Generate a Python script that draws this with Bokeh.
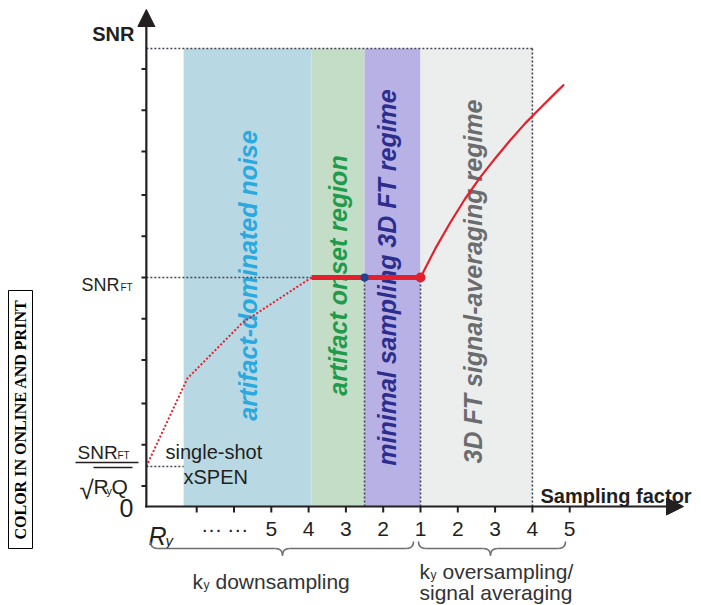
import math
from bokeh.plotting import figure
from bokeh.models import Range1d, Arrow, NormalHead
from bokeh.core.properties import value
from bokeh.embed import file_html
from bokeh.resources import INLINE

# ---------------- data ----------------
band_labels = ["artifact-dominated noise", "artifact onset region",
               "minimal sampling 3D FT regime", "3D FT signal-averaging regime"]
band_left = [-6.35, -2.92, -1.5, 0.0]
band_right = [-2.92, -1.5, 0.0, 3.0]
band_top = [2.0, 2.0, 2.0, 2.0]

# sampling positions: 0 = fully sampled (factor 1); negative = downsampling, positive = oversampling
tick_x = [-6, -5, -4, -3, -2, -1, 0, 1, 2, 3, 4]
tick_label_x = [-5.6, -4.9, -4, -3, -2, -1, 0, 1, 2, 3, 4]
tick_labels = ["\u00b7\u00b7\u00b7", "\u00b7\u00b7\u00b7", "5", "4", "3", "2", "1", "2", "3", "4", "5"]
y_ticks = [0.09, 0.27, 0.45, 0.64, 0.82, 1.0, 1.18, 1.36, 1.55, 1.73, 1.91]

axis_x = -7.35          # position of R_y (single shot) on the sampling axis
snr_single = 0.175      # SNR_FT / sqrt(R_y Q)
snr_ft = 1.0
snr_top = 2.0

down_x = [-7.35, -6.25, -4.77, -2.92]
down_y = [0.175, 0.559, 0.803, 1.0]
plateau_x = [-2.92, 0.0]
plateau_y = [1.0, 1.0]
up_x = [0.0, 0.4, 0.8, 1.2, 1.6, 2.0, 2.4, 2.8, 3.2, 3.6, 3.85]
up_y = [1.0, 1.127, 1.240, 1.345, 1.437, 1.520, 1.598, 1.672, 1.738, 1.803, 1.843]
min_pt_x, min_pt_y = [-1.5], [1.0]
ft_pt_x, ft_pt_y = [0.0], [1.0]

# ---------------- styles ----------------
band_colors = ["#b8d8e3", "#c4ddc7", "#b8b1e5", "#eceeee"]
band_text_colors = ["#2aa8e0", "#1f9b4b", "#2c2d8c", "#6b6c6e"]
DARK = "#231f20"
RED = "#e3202c"
DOT = "#454550"
SANS = value("Liberation Sans")

W, H = 700, 604
OFF = 0  # page offset of the canvas


def X(px):
    return (px - 420) / 37.3


def Y(py):
    return (506 - py) / 229.0


p = figure(width=W, height=H, x_range=Range1d(X(OFF), X(OFF + W)), y_range=Range1d(Y(OFF + H), Y(OFF)),
           x_axis_type=None, y_axis_type=None, toolbar_location=None,
           output_backend="svg", min_border=0)
p.outline_line_color = None
p.background_fill_color = "white"

# bands
p.quad(left=band_left, right=band_right, bottom=0, top=band_top,
       fill_color=band_colors, line_color=None)

# band texts (vertical)
centers = [(l + r) / 2 for l, r in zip(band_left, band_right)]
p.text(x=[centers[0], centers[1], centers[2] - 0.15, centers[3] - 0.1],
       y=[Y(275), Y(275), Y(277), Y(281)], text=band_labels, angle=math.pi / 2,
       text_color=band_text_colors, text_font=SANS, text_font_size="25px",
       text_font_style="bold italic", text_align="center", text_baseline="middle")

# dotted guide lines
p.segment(x0=[axis_x, axis_x, axis_x, band_right[3], min_pt_x[0], ft_pt_x[0]],
          y0=[snr_top, snr_ft, snr_single, 0, 0, 0],
          x1=[band_right[3], plateau_x[0], band_left[0], band_right[3], min_pt_x[0], ft_pt_x[0]],
          y1=[snr_top, snr_ft, snr_single, snr_top, min_pt_y[0], ft_pt_y[0]],
          line_color=DOT, line_width=1.6, line_dash="2 2")

# curves
p.line(down_x, down_y, line_color=RED, line_width=2, line_dash="2 2")
p.line(plateau_x, plateau_y, line_color=RED, line_width=5)
p.line(up_x, up_y, line_color=RED, line_width=2.2)
p.scatter(min_pt_x, min_pt_y, size=8, fill_color="#23408e", line_color=None)
p.scatter(ft_pt_x, ft_pt_y, size=10, fill_color=RED, line_color=None)

# axes
p.add_layout(Arrow(end=NormalHead(size=17, fill_color=DARK, line_color=DARK, line_width=1),
                   x_start=axis_x, y_start=Y(507), x_end=axis_x, y_end=Y(9),
                   line_color=DARK, line_width=2.2))
p.add_layout(Arrow(end=NormalHead(size=17, fill_color=DARK, line_color=DARK, line_width=1),
                   x_start=axis_x - 0.03, y_start=0, x_end=X(683), y_end=0,
                   line_color=DARK, line_width=2.2))
p.segment(x0=tick_x, y0=[0] * len(tick_x), x1=tick_x, y1=[Y(512)] * len(tick_x),
          line_color=DARK, line_width=2)
p.segment(x0=[X(141)] * len(y_ticks), y0=y_ticks, x1=[axis_x] * len(y_ticks), y1=y_ticks,
          line_color=DARK, line_width=2)

# x tick labels
p.text(x=tick_label_x, y=[Y(528)] * len(tick_label_x), text=tick_labels,
       text_font=SANS, text_font_size="21px", text_color=DARK,
       text_align="center", text_baseline="middle")
p.text(x=[X(148)], y=[Y(535)], text=["R"], text_font=SANS, text_font_size="25px",
       text_font_style="italic", text_color=DARK, text_baseline="alphabetic")
p.text(x=[X(165)], y=[Y(540)], text=["y"], text_font=SANS, text_font_size="15px",
       text_font_style="italic", text_color=DARK, text_baseline="alphabetic")

# axis titles
p.text(x=[X(134)], y=[Y(33)], text=["SNR"], text_font=SANS, text_font_size="20px",
       text_font_style="bold", text_color=DARK, text_align="right", text_baseline="alphabetic")
p.text(x=[X(540)], y=[Y(495)], text=["Sampling factor"], text_font=SANS, text_font_size="20px",
       text_font_style="bold", text_color=DARK, text_baseline="alphabetic")

# y labels
p.text(x=[X(81)], y=[Y(284)], text=["SNR"], text_font=SANS,
       text_font_size="18px", text_color=DARK, text_baseline="alphabetic")
p.text(x=[X(77)], y=[Y(452)], text=["SNR"], text_font=SANS,
       text_font_size="19px", text_color=DARK, text_baseline="alphabetic")
p.text(x=[X(120), X(117)], y=[Y(287), Y(455)], text=["FT", "FT"], text_font=SANS,
       text_font_size="10px", text_color=DARK, text_baseline="alphabetic")
p.segment(x0=[X(75)], y0=[Y(462)], x1=[X(138)], y1=[Y(462)], line_color=DARK, line_width=1.5)
p.text(x=[X(79)], y=[Y(489)], text=["\u221a"], text_font=SANS, text_font_size="26px",
       text_color=DARK, text_baseline="alphabetic")
p.segment(x0=[X(93)], y0=[Y(467)], x1=[X(132)], y1=[Y(467)], line_color=DARK, line_width=1.3)
p.text(x=[X(93), X(111)], y=[Y(486), Y(486)], text=["R", "Q"], text_font=SANS,
       text_font_size="21px", text_color=DARK, text_baseline="alphabetic")
p.text(x=[X(106)], y=[Y(490)], text=["y"], text_font=SANS, text_font_size="11px",
       text_color=DARK, text_baseline="alphabetic")
p.text(x=[X(133)], y=[Y(507)], text=["0"], text_font=SANS, text_font_size="25px",
       text_color=DARK, text_align="right", text_baseline="middle")

# single-shot note
p.text(x=[X(165), X(183)], y=[Y(451), Y(476)], text=["single-shot", "xSPEN"], text_font=SANS,
       text_font_size="20px", text_color=DARK, text_baseline="middle")


# braces
def brace(x0, x1, xm, ytop, ybot, r=7):
    ymid = (ytop + ybot) / 2
    q = dict(x0=[], y0=[], x1=[], y1=[], cx=[], cy=[])
    s = dict(x0=[], y0=[], x1=[], y1=[])
    for a, b, c, d, cx, cy in [(x0, ytop, x0 + r, ymid, x0, ymid),
                               (xm - r, ymid, xm, ybot, xm, ymid),
                               (xm, ybot, xm + r, ymid, xm, ymid),
                               (x1 - r, ymid, x1, ytop, x1, ymid)]:
        q["x0"].append(X(a)); q["y0"].append(Y(b)); q["x1"].append(X(c)); q["y1"].append(Y(d))
        q["cx"].append(X(cx)); q["cy"].append(Y(cy))
    for a, c in [(x0 + r, xm - r), (xm + r, x1 - r)]:
        s["x0"].append(X(a)); s["x1"].append(X(c)); s["y0"].append(Y(ymid)); s["y1"].append(Y(ymid))
    p.quadratic(line_color="#6d6d6d", line_width=1.6, **q)
    p.segment(line_color="#6d6d6d", line_width=1.6, **s)


brace(150, 413, 282, 541, 555)
brace(418, 565, 490, 541, 555)

p.text(x=[X(192)], y=[Y(581)], text=["k"], text_font=SANS, text_font_size="21px",
       text_color="#333333", text_baseline="alphabetic")
p.text(x=[X(203)], y=[Y(584)], text=["y"], text_font=SANS, text_font_size="12px",
       text_color="#333333", text_baseline="alphabetic")
p.text(x=[X(215)], y=[Y(581)], text=["downsampling"], text_font=SANS, text_font_size="21px",
       text_color="#333333", text_baseline="alphabetic")
p.text(x=[X(419)], y=[Y(571)], text=["k"], text_font=SANS, text_font_size="21px",
       text_color="#333333", text_baseline="alphabetic")
p.text(x=[X(430)], y=[Y(574)], text=["y"], text_font=SANS, text_font_size="12px",
       text_color="#333333", text_baseline="alphabetic")
p.text(x=[X(442)], y=[Y(571)], text=["oversampling/"], text_font=SANS, text_font_size="21px",
       text_color="#333333", text_baseline="alphabetic")
p.text(x=[X(419)], y=[Y(592)], text=["signal averaging"], text_font=SANS, text_font_size="21px",
       text_color="#333333", text_baseline="alphabetic")

# side stamp
p.quad(left=[X(8)], right=[X(32)], top=[Y(290)], bottom=[Y(548)], fill_color=None,
       line_color="black", line_width=1)
p.text(x=[X(20)], y=[Y(419)], text=["COLOR IN ONLINE AND PRINT"], angle=math.pi / 2,
       text_font=value("Liberation Serif"), text_font_size="16px", text_font_style="bold",
       text_color="black", text_align="center", text_baseline="middle")

open("out.html", "w").write(file_html(p, INLINE))
